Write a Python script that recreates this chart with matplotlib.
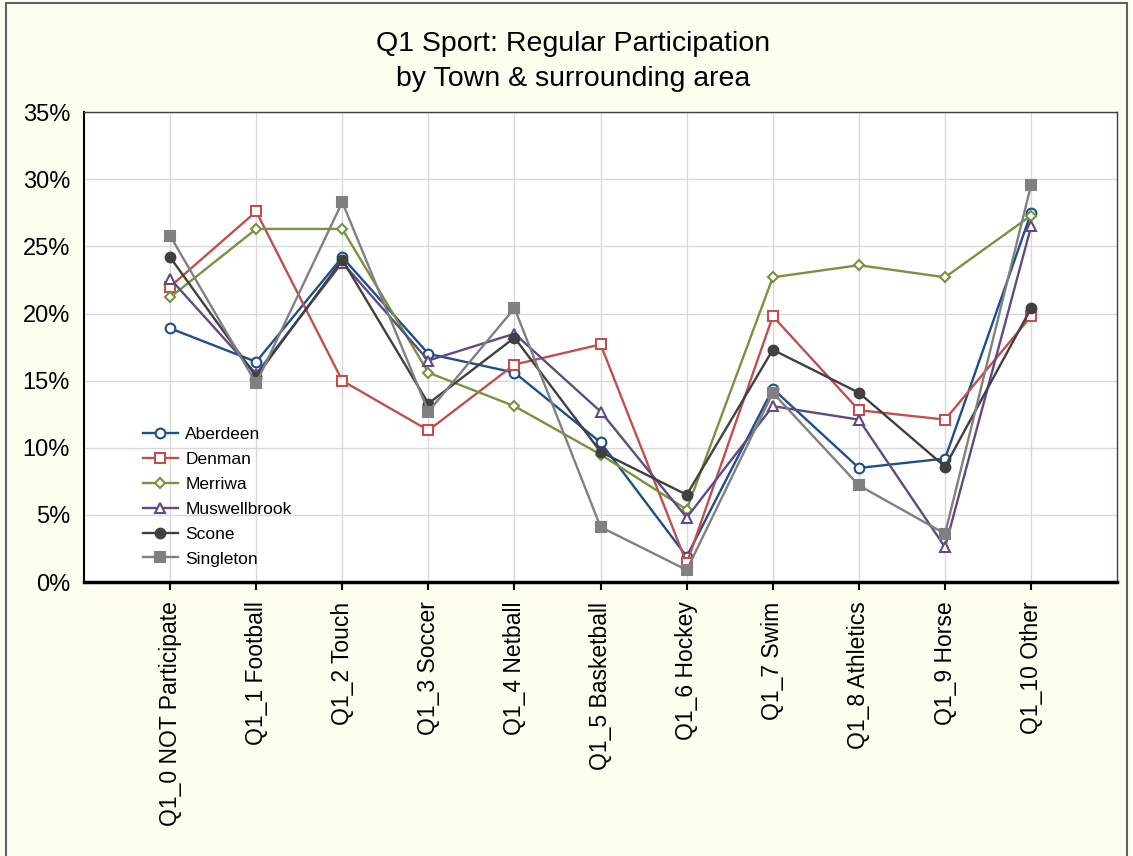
import matplotlib.pyplot as plt
from matplotlib.patches import Rectangle
from matplotlib.ticker import FuncFormatter

categories = ["Q1_0 NOT Participate", "Q1_1 Football", "Q1_2 Touch", "Q1_3 Soccer",
              "Q1_4 Netball", "Q1_5 Basketball", "Q1_6 Hockey", "Q1_7 Swim",
              "Q1_8 Athletics", "Q1_9 Horse", "Q1_10 Other"]

aberdeen = [18.9, 16.4, 24.2, 17.0, 15.6, 10.4, 1.9, 14.4, 8.5, 9.2, 27.5]
denman = [22.0, 27.6, 15.0, 11.3, 16.2, 17.7, 1.4, 19.8, 12.8, 12.1, 19.8]
merriwa = [21.2, 26.3, 26.3, 15.6, 13.1, 9.5, 5.4, 22.7, 23.6, 22.7, 27.3]
muswellbrook = [22.6, 15.5, 23.8, 16.5, 18.5, 12.7, 4.8, 13.1, 12.1, 2.6, 26.5]
scone = [24.2, 15.3, 24.0, 13.3, 18.2, 9.7, 6.5, 17.3, 14.1, 8.6, 20.4]
singleton = [25.8, 14.8, 28.3, 12.7, 20.4, 4.1, 0.9, 14.1, 7.2, 3.6, 29.6]

series = [
    ("Aberdeen", aberdeen, "#1F4E8C", "o", "white"),
    ("Denman", denman, "#C0504D", "s", "white"),
    ("Merriwa", merriwa, "#77933C", "D", "white"),
    ("Muswellbrook", muswellbrook, "#5F4A85", "^", "white"),
    ("Scone", scone, "#404040", "o", None),
    ("Singleton", singleton, "#808080", "s", None),
]

plt.rcParams["font.family"] = ["Liberation Sans", "DejaVu Sans"]

fig = plt.figure(figsize=(11.33, 8.56), dpi=100, facecolor="#FFFCF0")
ax = fig.add_axes([0.0741, 0.320, 0.912, 0.549])
ax.set_facecolor("white")

x = list(range(len(categories)))
for name, vals, color, marker, face in series:
    ms = 5.5 if marker == "D" else 7
    ax.plot(x, vals, color=color, lw=1.7, marker=marker, markersize=ms,
            markerfacecolor=face if face else color, markeredgecolor=color,
            markeredgewidth=1.5, label=name)

ax.set_xlim(-1, 11)
ax.set_ylim(0, 35)
ax.set_yticks(range(0, 36, 5))
ax.yaxis.set_major_formatter(FuncFormatter(lambda v, p: "%d%%" % v))
ax.set_xticks(x)
ax.set_xticklabels(categories, rotation=90, fontsize=16.5)
ax.tick_params(axis="y", labelsize=17, length=0, pad=10)
ax.tick_params(axis="x", length=6, width=1.5, direction="out", pad=8)
ax.grid(True, color="#D9D9D9", lw=1)
ax.set_axisbelow(True)
for side in ["top", "right"]:
    ax.spines[side].set_color("#404040")
    ax.spines[side].set_linewidth(1)
ax.spines["left"].set_linewidth(1.5)
ax.spines["bottom"].set_linewidth(2.5)

fig.text(0.506, 0.949, "Q1 Sport: Regular Participation", ha="center", va="center", fontsize=20.5)
fig.text(0.506, 0.908, "by Town & surrounding area", ha="center", va="center", fontsize=20.5)

ax.legend(loc="upper left", bbox_to_anchor=(0.057, 0.33), frameon=False, fontsize=12.5,
          handlelength=2.0, labelspacing=0.56, borderpad=0, borderaxespad=0,
          handletextpad=0.45)

fig.patches.append(Rectangle((0.005, -0.01), 0.99, 1.006, transform=fig.transFigure,
                             fill=False, edgecolor="#606060", lw=1.5))

fig.savefig("out.png", dpi=100, facecolor=fig.get_facecolor())
